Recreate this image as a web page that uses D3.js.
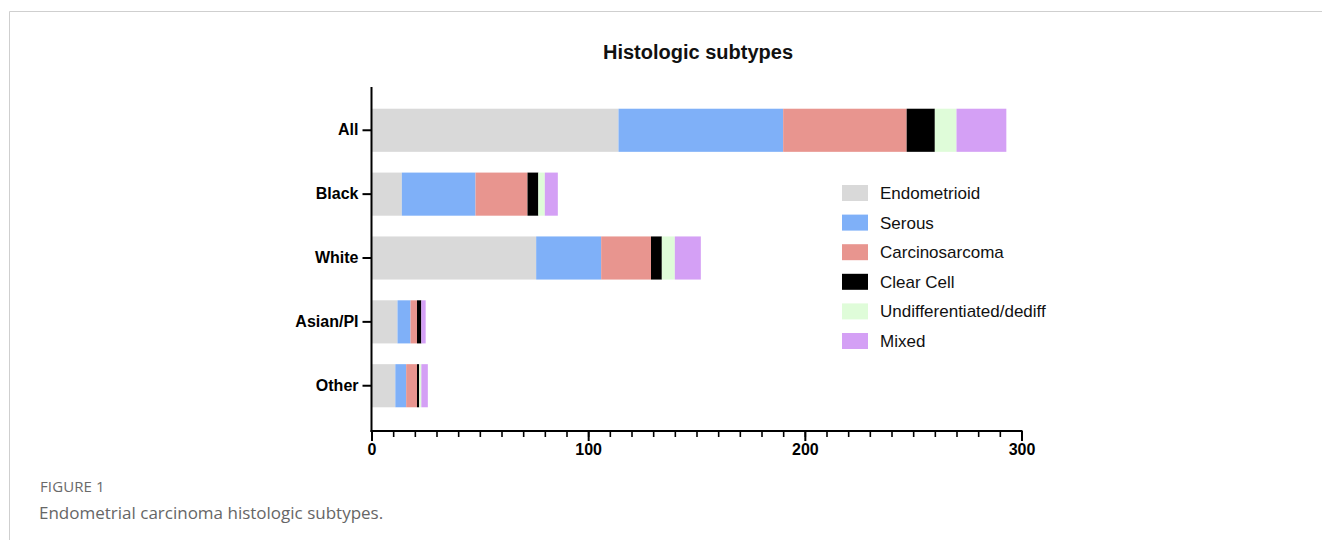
<!DOCTYPE html>
<html><head><meta charset="utf-8">
<script src="https://cdn.jsdelivr.net/npm/d3@7"></script>
<style>
html,body{margin:0;padding:0;background:#fff;}
svg{display:block;}
</style></head>
<body>
<svg id="chart" width="1322" height="540"></svg>
<script>
const categories = ["All", "Black", "White", "Asian/PI", "Other"];
const subtypes = ["Endometrioid", "Serous", "Carcinosarcoma", "Clear Cell", "Undifferentiated/dediff", "Mixed"];
const endometrioid = [114, 14, 76, 12, 11];
const serous = [76, 34, 30, 6, 5];
const carcinosarcoma = [57, 24, 23, 3, 5];
const clearCell = [13, 5, 5, 2, 1];
const undifferentiated = [10, 3, 6, 0, 1];
const mixed = [23, 6, 12, 2, 3];
const colors = ["#d9d9d9", "#7fb0f8", "#e8958f", "#000000", "#dffcd9", "#d4a0f5"];
const xTicks = [0, 100, 200, 300];
const title = "Histologic subtypes";
const figLabel = "FIGURE 1";
const caption = "Endometrial carcinoma histologic subtypes.";

const seriesArr = [endometrioid, serous, carcinosarcoma, clearCell, undifferentiated, mixed];
const rows = categories.map((c, i) => {
  const r = {cat: c};
  subtypes.forEach((s, j) => r[s] = seriesArr[j][i]);
  return r;
});
const stacked = d3.stack().keys(subtypes)(rows);

const svg = d3.select("#chart");
const font = "'Liberation Sans', Arial, sans-serif";

// frame
svg.append("line").attr("x1", 9.5).attr("x2", 1322).attr("y1", 11.5).attr("y2", 11.5).attr("stroke", "#cfcfcf").attr("stroke-width", 1);
svg.append("line").attr("x1", 9.5).attr("x2", 9.5).attr("y1", 11.5).attr("y2", 540).attr("stroke", "#cfcfcf").attr("stroke-width", 1);

const x = d3.scaleLinear().domain([0, 300]).range([371.5, 1021.5]);
const y = d3.scaleBand().domain(categories).range([98.5, 417.5]).paddingInner(0.325).paddingOuter(0.16);

svg.append("text").attr("x", 698).attr("y", 59).attr("text-anchor", "middle")
  .attr("font-family", font).attr("font-weight", "bold").attr("font-size", 20).attr("fill", "#111").text(title);

// bars
const g = svg.append("g");
stacked.forEach((layer, j) => {
  g.selectAll(null).data(layer).enter().append("rect")
    .attr("x", d => x(d[0]))
    .attr("width", d => Math.max(0, x(d[1]) - x(d[0])))
    .attr("y", (d, i) => y(categories[i]))
    .attr("height", y.bandwidth())
    .attr("fill", colors[j]);
});

// x axis
const xAxisMinor = d3.axisBottom(x).tickValues(d3.range(0, 301, 10)).tickSize(6).tickFormat("");
svg.append("g").attr("transform", "translate(0,431)").call(xAxisMinor)
  .call(s => s.select(".domain").attr("stroke", "#000").attr("stroke-width", 2).attr("d", `M${x(0)-1},0H${x(300)+1}`))
  .call(s => s.selectAll(".tick line").attr("stroke", "#000").attr("stroke-width", 1.6));
const xAxis = d3.axisBottom(x).tickValues(xTicks).tickSize(10).tickPadding(3).tickFormat(d3.format("d"));
svg.append("g").attr("transform", "translate(0,431)").call(xAxis)
  .call(s => s.select(".domain").remove())
  .call(s => s.selectAll(".tick line").attr("stroke", "#000").attr("stroke-width", 2))
  .call(s => s.selectAll(".tick text").attr("font-family", font).attr("font-weight", "bold").attr("font-size", 16).attr("fill", "#000"));

// y axis
const yAxis = d3.axisLeft(y).tickSize(9).tickPadding(4);
svg.append("g").attr("transform", `translate(${x(0)},0)`).call(yAxis)
  .call(s => s.select(".domain").attr("stroke", "#000").attr("stroke-width", 2).attr("d", "M0,87V432"))
  .call(s => s.selectAll(".tick line").attr("stroke", "#000").attr("stroke-width", 2))
  .call(s => s.selectAll(".tick text").attr("font-family", font).attr("font-weight", "bold").attr("font-size", 16).attr("fill", "#000"));

// legend
const leg = svg.append("g").attr("transform", "translate(842,185)");
subtypes.forEach((s, i) => {
  const row = leg.append("g").attr("transform", `translate(0,${i * 29.6})`);
  row.append("rect").attr("width", 26).attr("height", 16).attr("fill", colors[i]);
  row.append("text").attr("x", 38).attr("y", 14).attr("font-family", font).attr("font-size", 17).attr("fill", "#111").text(s);
});

// caption
svg.append("text").attr("x", 40).attr("y", 492).attr("font-family", "'Open Sans', sans-serif").attr("font-size", 15).attr("fill", "#6a6a6a").attr("letter-spacing", 0.1).text(figLabel);
svg.append("text").attr("x", 39).attr("y", 519).attr("font-family", "'Open Sans', sans-serif").attr("font-size", 17).attr("fill", "#666").text(caption);
</script>
</body></html>
